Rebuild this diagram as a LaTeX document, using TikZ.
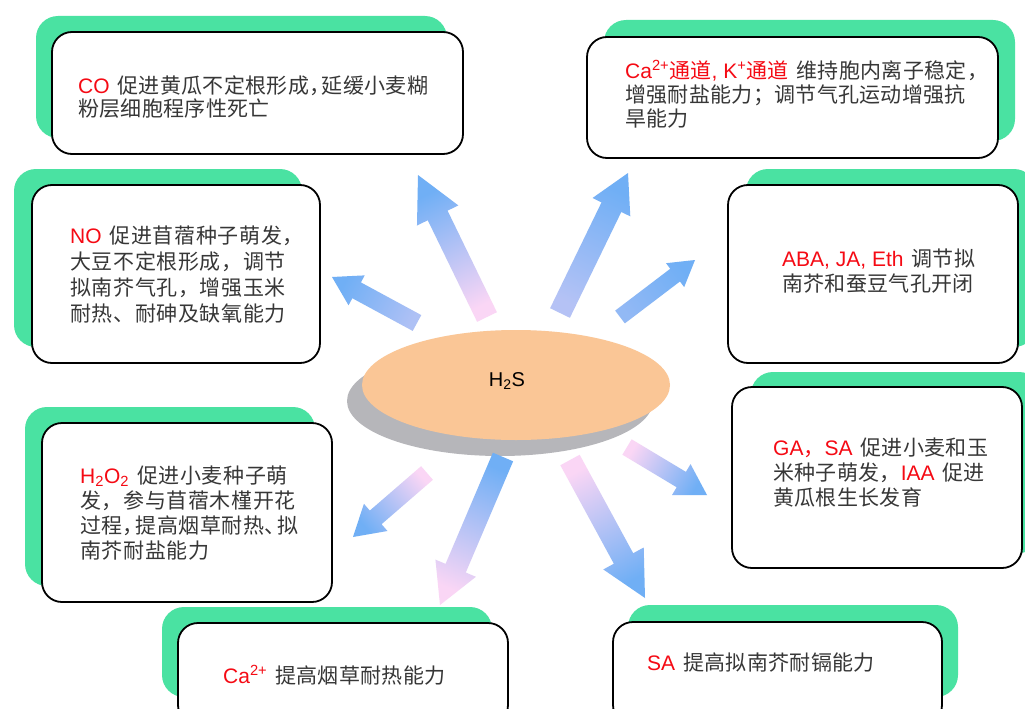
\documentclass[tikz,border=0pt]{standalone}
\usepackage{fontspec}
\setmainfont{Liberation Sans}
\newfontfamily\cjk[LetterSpace=3]{Noto Sans CJK SC}
\newfontfamily\cjkn[LetterSpace=1.5]{Noto Sans CJK SC}
\usetikzlibrary{calc,shapes.geometric}
\definecolor{grn}{RGB}{74,226,162}
\definecolor{hlred}{RGB}{245,10,20}
\definecolor{txtgray}{RGB}{55,55,55}
\definecolor{peach}{RGB}{250,198,150}
\definecolor{shgray}{RGB}{182,182,186}
\definecolor{ablue}{RGB}{112,175,245}
\definecolor{apink}{RGB}{250,214,245}
\newcommand{\la}[1]{{\rmfamily #1}}
\newcommand{\rd}[1]{\textcolor{hlred}{#1}}
\newcommand{\gp}{\hspace{0.38em}}
\newcommand{\nc}{\makebox[0.6em][l]{，}}
\newcommand{\nd}{\makebox[0.6em][l]{、}}
\newcommand{\garrow}[8]{%
  \coordinate (gb) at ($(#2)!#5pt!(#1)$);
  \shade[top color=#7, bottom color=#6, shading angle=#8]
    ($(#1)!#3pt!90:(#2)$) -- ($(gb)!#3pt!90:(#2)$) -- ($(gb)!#4pt!90:(#2)$)
    -- (#2) -- ($(gb)!#4pt!-90:(#2)$) -- ($(gb)!#3pt!-90:(#2)$)
    -- ($(#1)!#3pt!-90:(#2)$) -- cycle;
}
\tikzset{
  card/.style={draw=black, line width=1.8pt, fill=white, rounded corners=20pt},
  cardsh/.style={fill=grn, rounded corners=22pt},
  txt/.style={anchor=north west, inner sep=0pt, align=left, text=txtgray,
    font=\fontsize{21}{25}\selectfont\cjk},
}
\begin{document}
\begin{tikzpicture}[x=1pt,y=-1pt]
\useasboundingbox (0,0) rectangle (1025,709);
\clip (0,0) rectangle (1025,709);
\fill[white] (0,0) rectangle (1025,709);

% central ellipse
\fill[shgray] (500,401) ellipse [x radius=153, y radius=55];
\node[ellipse, fill=peach, minimum width=308pt, minimum height=110pt, inner sep=0pt] (hs) at (516,385) {};
\node[font=\fontsize{20}{24}\selectfont, text=black] (hst) at (507,381) {H\textsubscript{2}S};

% arrow coordinates
\coordinate (aT) at (417,323); \coordinate (aH) at (332,277);
\coordinate (bT) at (487,317); \coordinate (bH) at (418,175);
\coordinate (cT) at (560,313); \coordinate (cH) at (628,173);
\coordinate (dT) at (620,317); \coordinate (dH) at (695,260);
\coordinate (eT) at (427,473); \coordinate (eH) at (353,537);
\coordinate (fT) at (503,457); \coordinate (fH) at (440,605);
\coordinate (gT) at (570,460); \coordinate (gH) at (645,598);
\coordinate (hT) at (627,447); \coordinate (hH) at (707,495);

\garrow{aT}{aH}{9}{17}{28}{ablue!55!apink}{ablue}{61.6}
\garrow{bT}{bH}{11}{23}{45}{apink}{ablue}{25.9}
\garrow{cT}{cH}{11}{21}{38}{ablue!50!apink}{ablue}{-25.9}
\garrow{dT}{dH}{8}{15}{25}{ablue!75!apink}{ablue}{-52.8}
\garrow{eT}{eH}{9}{18}{30}{apink}{ablue}{130.9}
\garrow{fT}{fH}{11}{22}{40}{ablue}{apink}{156.9}
\garrow{gT}{gH}{11}{23}{45}{apink}{ablue}{-151.5}
\garrow{hT}{hH}{9}{18}{30}{apink}{ablue}{-121}

% boxes
\fill[cardsh] (36,16) rectangle (447,138);
\draw[card] (52,32) rectangle (463,154);
\node[txt, font=\fontsize{21}{23.5}\selectfont\cjkn] (tco) at (78,75.5)
  {\rd{\la{CO}}\gp 促进黄瓜不定根形成\nc 延缓小麦糊\\粉层细胞程序性死亡};

\fill[cardsh] (604,20) rectangle (1015,141);
\draw[card] (587,37) rectangle (998,158);
\node[txt, font=\fontsize{21}{24}\selectfont\cjkn] (tca) at (625,60.5)
  {\rd{\la{Ca\textsuperscript{2+}}通道\la{, K\textsuperscript{+}}通道}\gp 维持胞内离子稳定，\\增强耐盐能力；调节气孔运动增强抗\\旱能力};

\fill[cardsh] (14,169) rectangle (302,347);
\draw[card] (32,185) rectangle (320,363);
\node[txt, font=\fontsize{21}{26}\selectfont\cjk] (tno) at (70,225.5)
  {\rd{\la{NO}}\gp 促进苜蓿种子萌发，\\大豆不定根形成，调节\\拟南芥气孔，增强玉米\\耐热、耐砷及缺氧能力};

\fill[cardsh] (746,169) rectangle (1036,347);
\draw[card] (728,185) rectangle (1018,363);
\node[txt, font=\fontsize{21}{25}\selectfont\cjkn] (taba) at (782,248.5)
  {\rd{\la{ABA, JA, Eth}}\gp 调节拟\\南芥和蚕豆气孔开闭};

\fill[cardsh] (25,407) rectangle (315,586);
\draw[card] (42,423) rectangle (332,602);
\node[txt] (th) at (80,465.5)
  {\rd{\la{H\textsubscript{2}O\textsubscript{2}}}\gp 促进小麦种子萌\\发，参与苜蓿木槿开花\\过程\nc 提高烟草耐热\nd 拟\\南芥耐盐能力};

\fill[cardsh] (751,372) rectangle (1041,553);
\draw[card] (732,387) rectangle (1022,568);
\node[txt, font=\fontsize{21}{25}\selectfont\cjkn] (tga) at (773,437.5)
  {\rd{\la{GA}，\la{SA}}\gp 促进小麦和玉\\米种子萌发，\rd{\la{IAA}}\gp 促进\\黄瓜根生长发育};

\fill[cardsh] (162,607) rectangle (492,697);
\draw[card] (178,623) rectangle (508,725);
\node[txt, font=\fontsize{21}{25}\selectfont\cjkn] (tcab) at (223,665.5)
  {\rd{\la{Ca\textsuperscript{2+}}}\gp 提高烟草耐热能力};

\fill[cardsh] (628,605) rectangle (958,697);
\draw[card] (613,622) rectangle (942,725);
\node[txt, font=\fontsize{21}{25}\selectfont\cjkn] (tsa) at (647,652.5)
  {\rd{\la{SA}}\gp 提高拟南芥耐镉能力};
\end{tikzpicture}
\end{document}
